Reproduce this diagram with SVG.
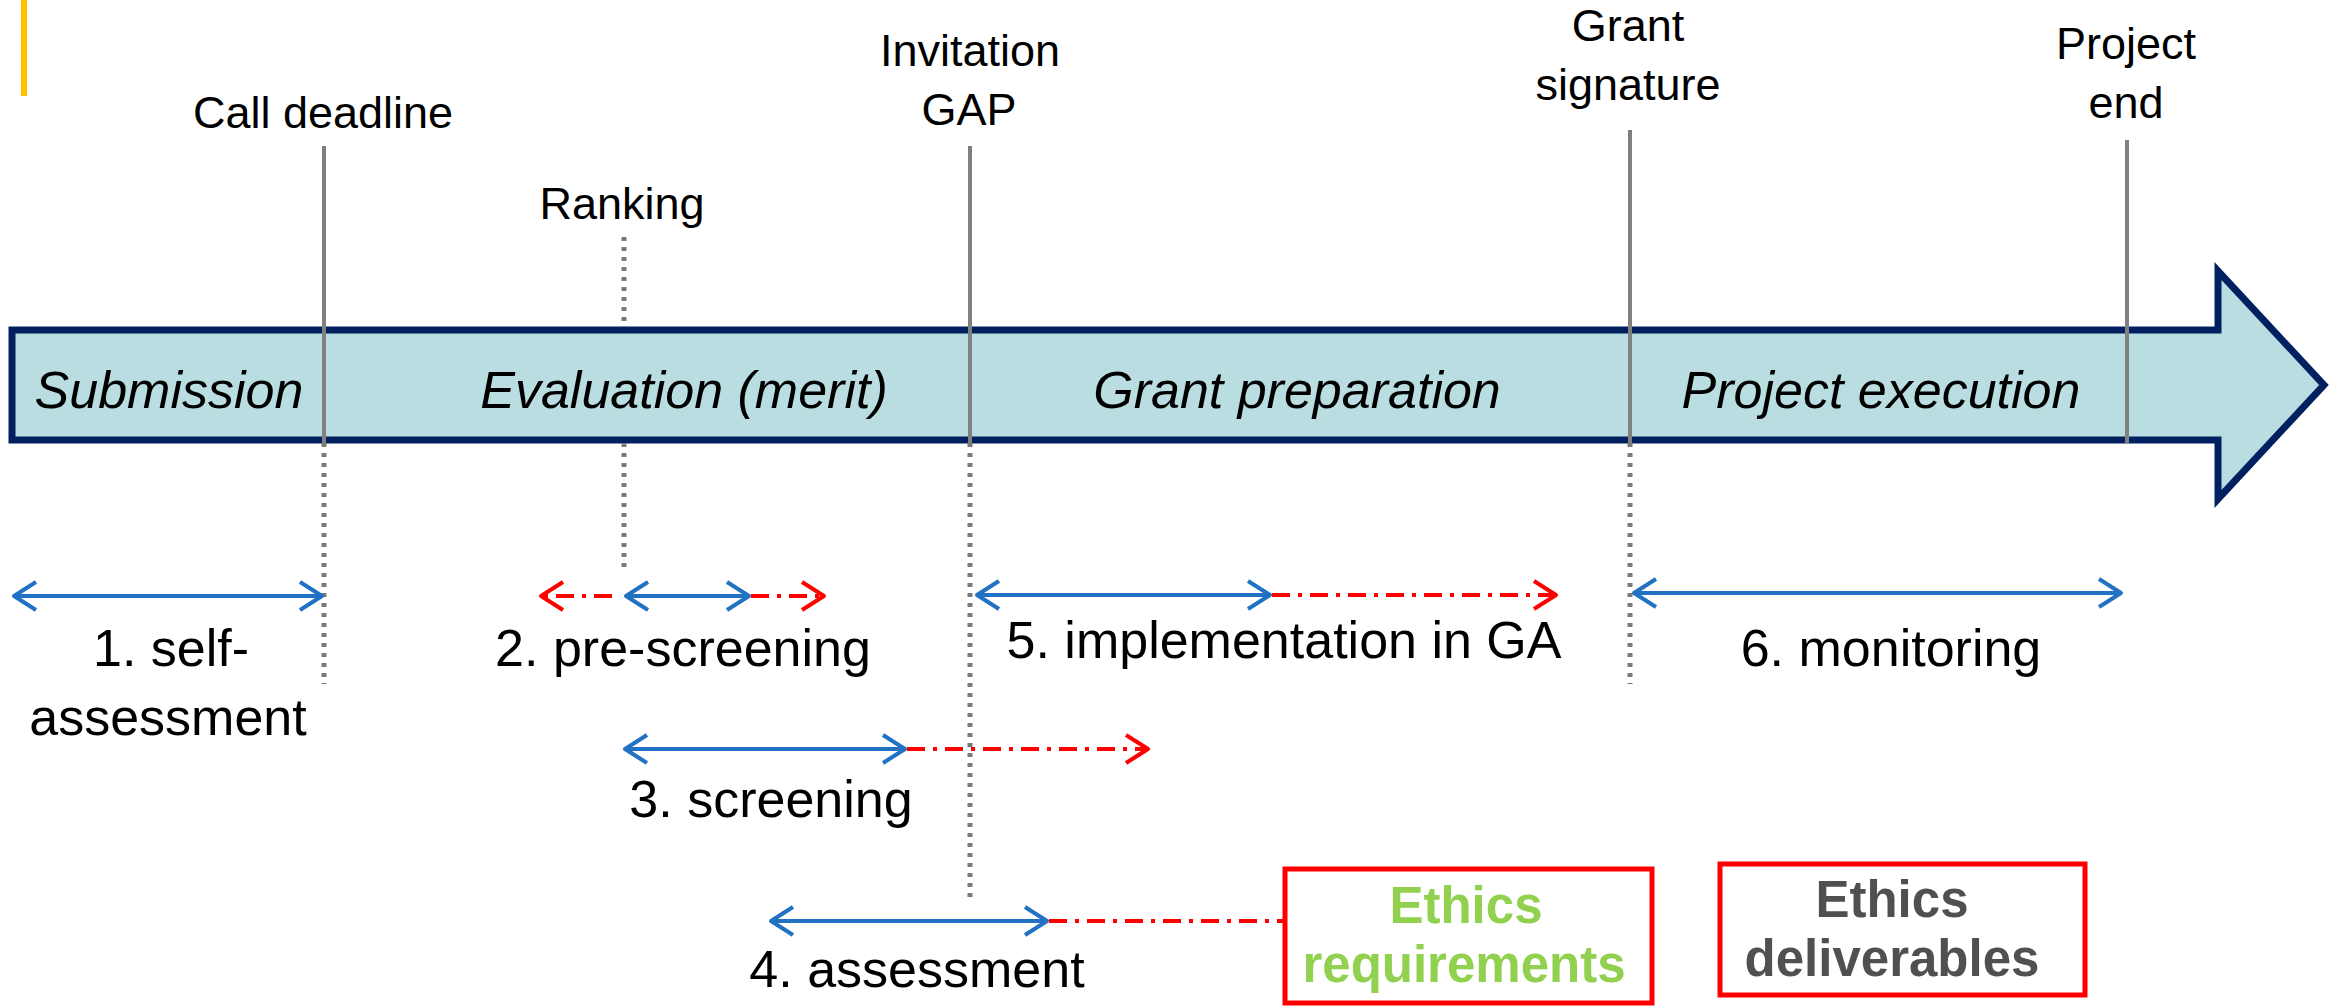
<svg xmlns="http://www.w3.org/2000/svg" width="2331" height="1008" viewBox="0 0 2331 1008">
<style>
.lbl{font-family:"Liberation Sans",Arial,sans-serif;font-size:45px;fill:#000;text-anchor:middle}
.phase{font-family:"Liberation Sans",Arial,sans-serif;font-size:52px;font-style:italic;fill:#000;text-anchor:middle}
.step{font-family:"Liberation Sans",Arial,sans-serif;font-size:52px;fill:#000;text-anchor:middle}
.eth{font-family:"Liberation Sans",Arial,sans-serif;font-size:51px;font-weight:bold;text-anchor:middle}
.solid{stroke:#808080;stroke-width:4;fill:none}
.dot{stroke:#7A7A7A;stroke-width:5;stroke-dasharray:4 6;fill:none}
.blue{stroke:#2272C3;stroke-width:4;fill:none}
.red{stroke:#FF0000;stroke-width:4;stroke-dasharray:18 8 4 8;fill:none}
.box{fill:#fff;stroke:#FF0000;stroke-width:5}
</style>
<defs>
<marker id="hb" markerUnits="userSpaceOnUse" markerWidth="60" markerHeight="60" viewBox="-30 -30 60 60" refX="0" refY="0" orient="auto-start-reverse">
<path d="M-22,-14 L0,0 L-22,14" fill="none" stroke="#2272C3" stroke-width="4" stroke-linejoin="round"/>
</marker>
<marker id="hr" markerUnits="userSpaceOnUse" markerWidth="60" markerHeight="60" viewBox="-30 -30 60 60" refX="0" refY="0" orient="auto-start-reverse">
<path d="M-22,-14 L0,0 L-22,14" fill="none" stroke="#FF0000" stroke-width="4" stroke-linejoin="round"/>
</marker>
</defs>
<rect x="21" y="0" width="6" height="96" fill="#FFC000"/>
<g id="timeline">
<polygon points="12,330 2218,330 2218,271 2324,385 2218,499 2218,440 12,440" fill="#B9DDE0" stroke="#002060" stroke-width="7" stroke-linejoin="miter"/>
<text class="phase" x="169" y="408">Submission</text>
<text class="phase" x="684" y="408">Evaluation (merit)</text>
<text class="phase" x="1297" y="408">Grant preparation</text>
<text class="phase" x="1881" y="408">Project execution</text>
</g>
<g id="milestones">
<g id="call-deadline">
<line class="solid" x1="324" y1="146" x2="324" y2="443"/>
<line class="dot" x1="324" y1="443" x2="324" y2="684"/>
<text class="lbl" x="323" y="128">Call deadline</text>
</g>
<g id="ranking">
<line class="dot" x1="624" y1="237" x2="624" y2="327"/>
<line class="dot" x1="624" y1="443" x2="624" y2="573"/>
<text class="lbl" x="622" y="219">Ranking</text>
</g>
<g id="invitation-gap">
<line class="solid" x1="970" y1="146" x2="970" y2="443"/>
<line class="dot" x1="970" y1="443" x2="970" y2="898"/>
<text class="lbl" x="970" y="66">Invitation</text>
<text class="lbl" x="969" y="125">GAP</text>
</g>
<g id="grant-signature">
<line class="solid" x1="1630" y1="130" x2="1630" y2="443"/>
<line class="dot" x1="1630" y1="443" x2="1630" y2="684"/>
<text class="lbl" x="1628" y="41">Grant</text>
<text class="lbl" x="1628" y="100">signature</text>
</g>
<g id="project-end">
<line class="solid" x1="2127" y1="140" x2="2127" y2="443"/>
<text class="lbl" x="2126" y="59">Project</text>
<text class="lbl" x="2126" y="118">end</text>
</g>
</g>
<g id="connectors">
<line class="blue" x1="14" y1="596" x2="322" y2="596" marker-start="url(#hb)" marker-end="url(#hb)"/>
<line class="red" x1="612" y1="596" x2="541" y2="596" marker-end="url(#hr)"/>
<line class="blue" x1="626" y1="596" x2="749" y2="596" marker-start="url(#hb)" marker-end="url(#hb)"/>
<line class="red" x1="751" y1="596" x2="824" y2="596" marker-end="url(#hr)"/>
<line class="blue" x1="625" y1="749" x2="905" y2="749" marker-start="url(#hb)" marker-end="url(#hb)"/>
<line class="red" x1="907" y1="749" x2="1148" y2="749" marker-end="url(#hr)"/>
<line class="blue" x1="771" y1="921" x2="1047" y2="921" marker-start="url(#hb)" marker-end="url(#hb)"/>
<line class="red" x1="1049" y1="921" x2="1283" y2="921"/>
<line class="blue" x1="977" y1="595" x2="1270" y2="595" marker-start="url(#hb)" marker-end="url(#hb)"/>
<line class="red" x1="1272" y1="595" x2="1556" y2="595" marker-end="url(#hr)"/>
<line class="blue" x1="1634" y1="593" x2="2121" y2="593" marker-start="url(#hb)" marker-end="url(#hb)"/>
</g>
<g id="step1"><text class="step" x="171" y="666">1. self-</text><text class="step" x="168" y="735">assessment</text></g>
<g id="step2"><text class="step" x="683" y="666">2. pre-screening</text></g>
<g id="step3"><text class="step" x="771" y="817">3. screening</text></g>
<g id="step4"><text class="step" x="917" y="987">4. assessment</text></g>
<g id="step5"><text class="step" x="1284" y="658">5. implementation in GA</text></g>
<g id="step6"><text class="step" x="1891" y="666">6. monitoring</text></g>
<g id="ethics-requirements">
<rect class="box" x="1285" y="869" width="367" height="134"/>
<text class="eth" x="1466" y="923" fill="#92D050">Ethics</text>
<text class="eth" x="1464" y="982" fill="#92D050">requirements</text>
</g>
<g id="ethics-deliverables">
<rect class="box" x="1720" y="864" width="365" height="131"/>
<text class="eth" x="1892" y="917" fill="#505050">Ethics</text>
<text class="eth" x="1892" y="976" fill="#505050">deliverables</text>
</g>
</svg>
